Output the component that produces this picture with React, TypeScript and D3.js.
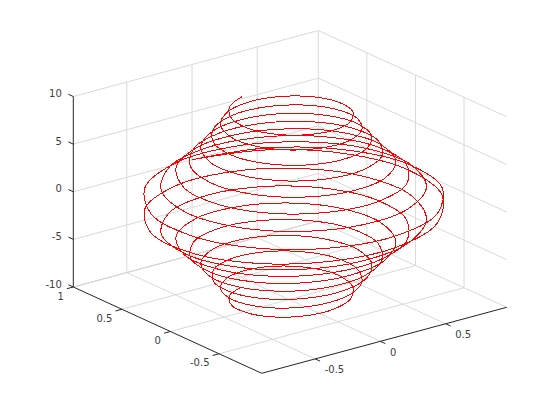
import React from "react";
import * as d3 from "d3";

const xLim = [-0.91, 0.968];
const yLim = [-0.939, 1];
const zLim = [-10, 10];
const xTicks = [-0.5, 0, 0.5];
const yTicks = [-0.5, 0, 0.5, 1];
const zTicks = [-10, -5, 0, 5, 10];

// upper half of the spiral; the picture's lower half mirrors it in z
const zValues = [0,.1,.2,.3,.4,.5,.6,.7,.8,.9,1,1.1,1.2,1.3,1.4,1.5,1.6,1.7,1.8,1.9,2,2.1,2.2,2.3,2.4,2.5,2.6,2.7,2.8,2.9,3,3.1,3.2,3.3,3.4,3.5,3.6,3.7,3.8,3.9,4,4.1,4.2,4.3,4.4,4.5,4.6,4.7,4.8,4.9,5,5.1,5.2,5.3,5.4,5.5,5.6,5.7,5.8,5.9,6,6.1,6.2,6.3,6.4,6.5,6.6,6.7,6.8,6.9,7,7.1,7.2,7.3,7.4,7.5,7.6,7.7,7.8,7.9,8,8.1,8.2,8.3,8.4,8.5,8.6,8.7,8.8,8.9,9,9.1,9.2,9.3,9.4,9.5,9.6,9.7,9.8,9.9,10];
const xValues = [0,.474,.824,.967,.874,.569,.133,-.327,-.699,-.894,-.868,-.633,-.247,.189,.571,.808,.843,.674,.344,-.062,-.446,-.714,-.803,-.696,-.423,-.051,.324,.613,.749,.699,.482,.152,-.209,-.512,-.684,-.688,-.524,-.235,.103,.410,.612,.661,.550,.307,-.006,-.311,-.534,-.624,-.561,-.363,-.080,.215,.454,.577,.557,.403,.155,-.127,-.372,-.521,-.542,-.431,-.217,.044,.290,.461,.517,.446,.268,.029,-.213,-.398,-.483,-.449,-.307,-.094,.139,.332,.442,.442,.335,.149,-.070,-.267,-.396,-.425,-.352,-.194,.007,.203,.346,.402,.360,.230,.048,-.142,-.294,-.372,-.358,-.258,-.096];
const yValues = [1,.869,.529,.069,-.400,-.762,-.933,-.872,-.604,-.193,.257,.635,.852,.858,.655,.299,-.124,-.508,-.761,-.825,-.687,-.386,.003,.384,.664,.777,.699,.454,.104,-.266,-.563,-.717,-.696,-.505,-.196,.154,.461,.650,.676,.539,.273,-.052,-.360,-.574,-.644,-.557,-.336,-.039,.262,.494,.602,.560,.385,.119,-.170,-.413,-.550,-.552,-.419,-.187,.085,.331,.492,.531,.440,.244,-.007,-.251,-.430,-.501,-.449,-.289,-.062,.175,.365,.463,.447,.322,.122,-.104,-.299,-.420,-.434,-.345,-.173,.038,.235,.371,.415,.357,.214,.021,-.172,-.321,-.388,-.360,-.246,-.073,.113,.268,.355];

const fx = d3.scaleLinear().domain(xLim).range([0, 1]);
const fy = d3.scaleLinear().domain(yLim).range([0, 1]);
const fz = d3.scaleLinear().domain(zLim).range([0, 1]);

const F = [261.7, 373.3];
const EX = [245, -66];
const EY = [-188.4, -86.3];
const EZ = [0, -190.5];

const P = (x: number, y: number, z: number): [number, number] => [
  F[0] + fx(x) * EX[0] + fy(y) * EY[0] + fz(z) * EZ[0],
  F[1] + fx(x) * EX[1] + fy(y) * EY[1] + fz(z) * EZ[1],
];

const branch = (sign: number) => {
  const line = d3.line<[number, number]>().curve(d3.curveCatmullRom.alpha(0.5));
  return line(zValues.map((z, i) => P(xValues[i], yValues[i], sign * z)));
};

const GRID = "#d9d9d9";
const AXIS = "#262626";
const TXT = "#404040";
const TICK = 0.026;

const Seg = ({ a, b, c, w = 1 }: { a: [number, number]; b: [number, number]; c: string; w?: number }) => (
  <line x1={a[0]} y1={a[1]} x2={b[0]} y2={b[1]} stroke={c} strokeWidth={w} />
);

export default function App() {
  const [x0, x1] = xLim;
  const [y0, y1] = yLim;
  const [z0, z1] = zLim;
  const g: React.ReactNode[] = [];
  let k = 0;
  const add = (a: [number, number], b: [number, number], c = GRID) => g.push(<Seg key={k++} a={a} b={b} c={c} />);

  xTicks.forEach((x) => {
    add(P(x, y0, z0), P(x, y1, z0));
    add(P(x, y1, z0), P(x, y1, z1));
  });
  yTicks.forEach((y) => {
    add(P(x0, y, z0), P(x1, y, z0), y === 1 ? "#bdbdbd" : GRID);
    add(P(x1, y, z0), P(x1, y, z1));
  });
  zTicks.forEach((z) => {
    add(P(x0, y1, z), P(x1, y1, z));
    add(P(x1, y1, z), P(x1, y0, z));
  });

  const dyT = TICK * (y1 - y0);
  const dxT = TICK * (x1 - x0);

  return (
    <svg
      width={560}
      height={420}
      style={{ position: "absolute", left: 0, top: 0, background: "#fff" }}
      fontFamily="'DejaVu Sans', sans-serif"
      fontSize={10}
    >
      {g}
      <path d={branch(-1) ?? ""} fill="none" stroke="#ff0000" strokeWidth={1} shapeRendering="crispEdges" />
      <path d={branch(1) ?? ""} fill="none" stroke="#ff0000" strokeWidth={1} shapeRendering="crispEdges" />

      <Seg a={P(x0, y1, z0)} b={P(x0, y1, z1)} c={AXIS} />
      <Seg a={P(x0, y1, z0)} b={P(x0, y0, z0)} c={AXIS} />
      <Seg a={P(x0, y0, z0)} b={P(x1, y0, z0)} c={AXIS} />

      {xTicks.map((x) => {
        const p = P(x, y0, z0);
        return (
          <g key={"x" + x}>
            <Seg a={p} b={P(x, y0 - dyT, z0)} c={AXIS} />
            <text x={p[0] + 9.5} y={p[1] + 10.8} dy="0.35em" textAnchor="start" fill={TXT}>{x}</text>
          </g>
        );
      })}
      {yTicks.map((y) => {
        const p = P(x0, y, z0);
        return (
          <g key={"y" + y}>
            <Seg a={p} b={P(x0 - dxT, y, z0)} c={AXIS} />
            <text x={p[0] - 9.5} y={p[1] + 9} dy="0.35em" textAnchor="end" fill={TXT}>{y}</text>
          </g>
        );
      })}
      {zTicks.map((z) => {
        const p = P(x0, y1, z);
        return (
          <g key={"z" + z}>
            <Seg a={p} b={P(x0, y1 + dyT, z)} c={AXIS} />
            <text x={p[0] - 11.5} y={p[1] - 3} dy="0.35em" textAnchor="end" fill={TXT}>{z}</text>
          </g>
        );
      })}
    </svg>
  );
}
